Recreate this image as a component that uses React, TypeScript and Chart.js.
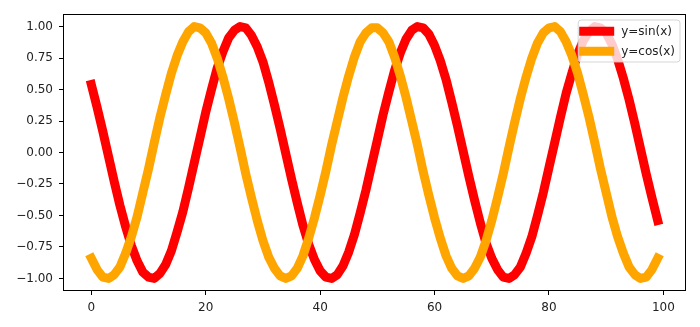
import React, { useEffect, useRef } from "react";
import { Chart, registerables } from "chart.js";

Chart.register(...registerables);

// y = sin(x) sampled at 100 points (index 0..99)
const sinValues: number[] = [
  0.54, 0.36, 0.17, -0.03, -0.23, -0.42, -0.59, -0.74, -0.86, -0.95,
  -0.99, -1.0, -0.96, -0.89, -0.78, -0.63, -0.47, -0.28, -0.08, 0.12,
  0.32, 0.5, 0.67, 0.8, 0.91, 0.97, 1.0, 0.99, 0.93, 0.84,
  0.72, 0.56, 0.38, 0.19, -0.01, -0.21, -0.4, -0.58, -0.73, -0.85,
  -0.94, -0.99, -1.0, -0.97, -0.9, -0.79, -0.65, -0.48, -0.3, -0.1,
  0.1, 0.3, 0.48, 0.65, 0.79, 0.9, 0.97, 1.0, 0.99, 0.94,
  0.85, 0.73, 0.58, 0.4, 0.21, 0.01, -0.19, -0.38, -0.56, -0.72,
  -0.84, -0.93, -0.99, -1.0, -0.97, -0.91, -0.8, -0.67, -0.5, -0.32,
  -0.12, 0.08, 0.28, 0.47, 0.63, 0.78, 0.89, 0.96, 1.0, 0.99,
  0.95, 0.86, 0.74, 0.59, 0.42, 0.23, 0.03, -0.17, -0.36, -0.54,
];

// y = cos(x) sampled at the same 100 points
const cosValues: number[] = [
  -0.84, -0.93, -0.99, -1.0, -0.97, -0.91, -0.8, -0.67, -0.51, -0.32,
  -0.13, 0.08, 0.28, 0.46, 0.63, 0.77, 0.88, 0.96, 1.0, 0.99,
  0.95, 0.87, 0.75, 0.6, 0.43, 0.24, 0.04, -0.17, -0.36, -0.54,
  -0.7, -0.83, -0.92, -0.98, -1.0, -0.98, -0.92, -0.82, -0.68, -0.52,
  -0.34, -0.15, 0.06, 0.25, 0.44, 0.61, 0.76, 0.88, 0.95, 0.99,
  0.99, 0.95, 0.88, 0.76, 0.61, 0.44, 0.25, 0.06, -0.15, -0.34,
  -0.52, -0.68, -0.82, -0.92, -0.98, -1.0, -0.98, -0.92, -0.83, -0.7,
  -0.54, -0.36, -0.17, 0.04, 0.24, 0.43, 0.6, 0.75, 0.87, 0.95,
  0.99, 1.0, 0.96, 0.88, 0.77, 0.63, 0.46, 0.28, 0.08, -0.13,
  -0.32, -0.51, -0.67, -0.8, -0.91, -0.97, -1.0, -0.99, -0.93, -0.84,
];

const seriesLabels: string[] = ["y=sin(x)", "y=cos(x)"];
const seriesColors: string[] = ["#ff0000", "#ffa500"];
const xTicks: number[] = [0, 20, 40, 60, 80, 100];
const yTicks: number[] = [-1.0, -0.75, -0.5, -0.25, 0.0, 0.25, 0.5, 0.75, 1.0];

const FONT = "'DejaVu Sans', sans-serif";

const fmtY = (v: number) => {
  const s = Math.abs(v).toFixed(2);
  return v < 0 ? "\u2212" + s : s;
};

const framePlugin = {
  id: "frame",
  afterDraw(chart: any) {
    const { ctx, chartArea: a } = chart;
    ctx.save();
    ctx.strokeStyle = "#000";
    ctx.lineWidth = 1;
    ctx.strokeRect(Math.round(a.left) + 0.5, Math.round(a.top) + 0.5, Math.round(a.right - a.left) - 1, Math.round(a.bottom - a.top) - 1);
    ctx.restore();
  },
};

const legendPlugin = {
  id: "mplLegend",
  afterDraw(chart: any) {
    const { ctx, chartArea: a } = chart;
    const ds = chart.data.datasets;
    ctx.save();
    ctx.font = `12px ${FONT}`;
    let maxW = 0;
    ds.forEach((d: any) => {
      maxW = Math.max(maxW, ctx.measureText(d.label).width);
    });
    const boxRight = a.right - 6;
    const boxTop = a.top + 6;
    const handleLen = 35;
    const w = 1 + handleLen + 7 + maxW + 5;
    const h = 42;
    const boxLeft = boxRight - w;
    const r = 3;
    ctx.beginPath();
    ctx.moveTo(boxLeft + r, boxTop);
    ctx.lineTo(boxRight - r, boxTop);
    ctx.quadraticCurveTo(boxRight, boxTop, boxRight, boxTop + r);
    ctx.lineTo(boxRight, boxTop + h - r);
    ctx.quadraticCurveTo(boxRight, boxTop + h, boxRight - r, boxTop + h);
    ctx.lineTo(boxLeft + r, boxTop + h);
    ctx.quadraticCurveTo(boxLeft, boxTop + h, boxLeft, boxTop + h - r);
    ctx.lineTo(boxLeft, boxTop + r);
    ctx.quadraticCurveTo(boxLeft, boxTop, boxLeft + r, boxTop);
    ctx.closePath();
    ctx.fillStyle = "rgba(255,255,255,0.8)";
    ctx.fill();
    ctx.strokeStyle = "rgba(204,204,204,0.8)";
    ctx.lineWidth = 1;
    ctx.stroke();
    ds.forEach((d: any, i: number) => {
      const cy = boxTop + 11.3 + i * 20;
      ctx.beginPath();
      ctx.moveTo(boxLeft + 1, cy);
      ctx.lineTo(boxLeft + 1 + handleLen, cy);
      ctx.strokeStyle = d.borderColor;
      ctx.lineWidth = 9;
      ctx.lineCap = "butt";
      ctx.stroke();
      ctx.fillStyle = "#222";
      ctx.textAlign = "left";
      ctx.textBaseline = "middle";
      ctx.fillText(d.label, boxLeft + 1 + handleLen + 7, cy + 0.5);
    });
    ctx.restore();
  },
};

export default function App() {
  const canvasRef = useRef<HTMLCanvasElement | null>(null);

  useEffect(() => {
    document.body.style.margin = "0";
    const canvas = canvasRef.current;
    if (!canvas) return;
    const chart = new Chart(canvas, {
      type: "line",
      data: {
        datasets: [
          {
            label: seriesLabels[0],
            data: sinValues.map((v, i) => ({ x: i, y: v })),
            borderColor: seriesColors[0],
            backgroundColor: seriesColors[0],
            borderWidth: 9,
            pointRadius: 0,
            tension: 0,
            borderJoinStyle: "round",
            borderCapStyle: "square",
            order: 1,
          },
          {
            label: seriesLabels[1],
            data: cosValues.map((v, i) => ({ x: i, y: v })),
            borderColor: seriesColors[1],
            backgroundColor: seriesColors[1],
            borderWidth: 9,
            pointRadius: 0,
            tension: 0,
            borderJoinStyle: "round",
            borderCapStyle: "square",
            order: 0,
          },
        ],
      },
      options: {
        animation: false,
        responsive: true,
        maintainAspectRatio: false,
        layout: { padding: { top: 14, right: 14, left: 0, bottom: 0 } },
        plugins: {
          legend: { display: false },
          tooltip: { enabled: false },
        },
        scales: {
          x: {
            type: "linear",
            min: -4.95,
            max: 103.95,
            afterBuildTicks: (s: any) => {
              s.ticks = xTicks.map((v) => ({ value: v }));
            },
            afterFit: (s: any) => {
              s.height = 36;
            },
            grid: {
              display: true,
              drawOnChartArea: false,
              drawTicks: true,
              tickLength: 4,
              tickColor: "#000",
              tickWidth: 1,
            },
            border: { display: false },
            ticks: {
              padding: 6,
              color: "#222",
              font: { family: FONT, size: 12 },
              maxRotation: 0,
              autoSkip: false,
              callback: (v: any) => String(v),
            },
          },
          y: {
            type: "linear",
            min: -1.1,
            max: 1.1,
            afterBuildTicks: (s: any) => {
              s.ticks = yTicks.map((v) => ({ value: v }));
            },
            afterFit: (s: any) => {
              s.width = 63;
            },
            grid: {
              display: true,
              drawOnChartArea: false,
              drawTicks: true,
              tickLength: 4,
              tickColor: "#000",
              tickWidth: 1,
            },
            border: { display: false },
            ticks: {
              padding: 6,
              color: "#222",
              font: { family: FONT, size: 12 },
              autoSkip: false,
              callback: (v: any) => fmtY(Number(v)),
            },
          },
        },
      },
      plugins: [framePlugin, legendPlugin],
    });
    return () => chart.destroy();
  }, []);

  return (
    <div style={{ position: "relative", width: 700, height: 327, background: "#fff" }}>
      <canvas ref={canvasRef} />
    </div>
  );
}
